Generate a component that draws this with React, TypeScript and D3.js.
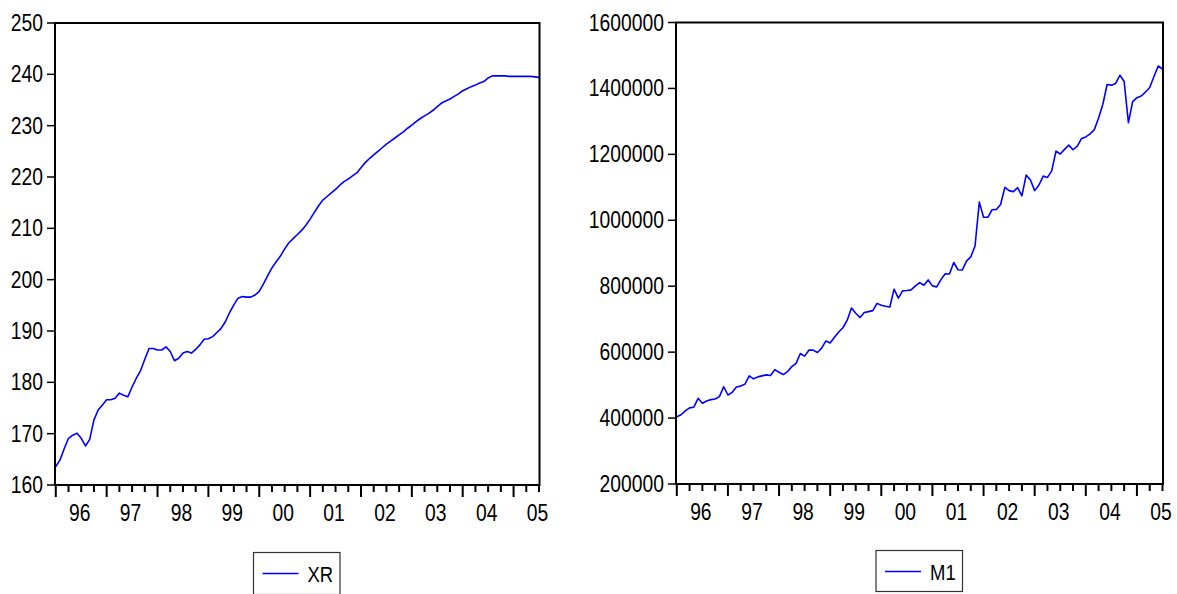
import React from "react";
import * as d3 from "d3";

// Monthly observations, 1996M01 – 2005M07
const START_YEAR = 1996;

const xrValues: number[] = [
  163.6, 164.9, 167.1, 169.1, 169.7, 170.1, 169.1, 167.6, 168.9, 172.7, 174.6, 175.6,
  176.6, 176.6, 176.9, 177.9, 177.5, 177.2, 179.1, 180.8, 182.3, 184.5, 186.6, 186.6,
  186.3, 186.3, 186.9, 186.0, 184.2, 184.7, 185.7, 186.0, 185.7, 186.4, 187.3, 188.4,
  188.5, 188.9, 189.7, 190.5, 191.8, 193.6, 195.1, 196.4, 196.7, 196.6, 196.6, 197.0,
  197.7, 199.2, 200.8, 202.3, 203.5, 204.6, 206.0, 207.2, 208.0, 208.8, 209.6, 210.6,
  211.8, 213.1, 214.4, 215.5, 216.2, 216.9, 217.6, 218.4, 219.1, 219.6, 220.2, 220.8,
  221.8, 222.8, 223.6, 224.3, 225.0, 225.7, 226.4, 227.0, 227.6, 228.2, 228.8, 229.5,
  230.1, 230.8, 231.4, 231.9, 232.4, 233.0, 233.7, 234.4, 234.8, 235.2, 235.7, 236.2,
  236.8, 237.2, 237.6, 237.9, 238.3, 238.6, 239.3, 239.7, 239.7, 239.7, 239.7, 239.6,
  239.6, 239.6, 239.6, 239.6, 239.6, 239.5, 239.4,
];

const m1Values: number[] = [
  404000, 410000, 422000, 431000, 433000, 460000, 445000, 452000, 456000, 458000, 465000, 495000,
  470000, 478000, 494000, 497000, 503000, 528000, 519000, 525000, 528000, 531000, 529000, 547000,
  539000, 532000, 541000, 556000, 566000, 596000, 588000, 606000, 606000, 599000, 612000, 634000,
  628000, 645000, 661000, 674000, 697000, 734000, 718000, 705000, 720000, 723000, 726000, 748000,
  742000, 739000, 737000, 791000, 764000, 786000, 787000, 789000, 801000, 811000, 803000, 819000,
  801000, 798000, 820000, 838000, 837000, 872000, 850000, 849000, 876000, 889000, 922000, 1055000,
  1009000, 1009000, 1032000, 1033000, 1048000, 1100000, 1090000, 1087000, 1099000, 1074000, 1137000, 1122000,
  1090000, 1107000, 1134000, 1130000, 1150000, 1210000, 1201000, 1215000, 1228000, 1214000, 1225000, 1248000,
  1253000, 1262000, 1275000, 1310000, 1352000, 1412000, 1410000, 1415000, 1440000, 1421000, 1296000, 1360000,
  1372000, 1377000, 1389000, 1403000, 1436000, 1468000, 1459000,
];

const xrTicks: number[] = [160, 170, 180, 190, 200, 210, 220, 230, 240, 250];
const m1Ticks: number[] = [200000, 400000, 600000, 800000, 1000000, 1200000, 1400000, 1600000];
const yearLabels: string[] = ["96", "97", "98", "99", "00", "01", "02", "03", "04", "05"];

const FONT = "'Liberation Sans', Arial, sans-serif";
const SQUEEZE = 0.84;

type PanelProps = {
  name: string;
  values: number[];
  yDomain: [number, number];
  yTicks: number[];
  frame: { left: number; right: number; top: number; bottom: number };
  legend: { x: number; y: number; w: number; h: number };
};

function Panel({ name, values, yDomain, yTicks, frame, legend }: PanelProps) {
  const n = values.length;
  const x = d3.scaleLinear().domain([0, n - 1]).range([frame.left + 0.8, frame.right - 0.5]);
  const y = d3.scaleLinear().domain(yDomain).range([frame.bottom, frame.top]);
  const line = d3
    .line<number>()
    .x((_, i) => x(i))
    .y((v) => y(v));

  const quarterTicks = d3.range(0, n, 3);

  return (
    <g>
      {/* series */}
      <path d={line(values) ?? ""} fill="none" stroke="#0000ff" strokeWidth={1.6} strokeLinejoin="round" />

      {/* frame */}
      <rect
        x={frame.left}
        y={frame.top}
        width={frame.right - frame.left}
        height={frame.bottom - frame.top}
        fill="none"
        stroke="#000"
        strokeWidth={2}
      />

      {/* left axis */}
      {yTicks.map((t) => (
        <g key={t}>
          <line x1={frame.left - 8} x2={frame.left} y1={y(t)} y2={y(t)} stroke="#000" strokeWidth={1.5} />
          <text
            transform={`translate(${frame.left - 12},${y(t) + 8}) scale(${SQUEEZE},1)`}
            textAnchor="end"
            fontFamily={FONT}
            fontSize={23}
            fill="#000"
          >
            {t}
          </text>
        </g>
      ))}

      {/* bottom axis: quarters with longer year ticks */}
      {quarterTicks.map((q) => {
        const major = q % 12 === 0;
        return (
          <line
            key={q}
            x1={x(q)}
            x2={x(q)}
            y1={frame.bottom}
            y2={frame.bottom + (major ? 12 : 7)}
            stroke="#000"
            strokeWidth={2}
          />
        );
      })}
      {yearLabels.map((lab, k) => (
        <text
          key={lab}
          transform={`translate(${x(k * 12 + 6) - 1.5},${frame.bottom + 36}) scale(${SQUEEZE},1)`}
          textAnchor="middle"
          fontFamily={FONT}
          fontSize={23}
          fill="#000"
        >
          {lab}
        </text>
      ))}

      {/* legend */}
      <rect
        x={legend.x}
        y={legend.y}
        width={legend.w}
        height={legend.h}
        fill="#fff"
        stroke="#333"
        strokeWidth={1.2}
      />
      <line
        x1={legend.x + 9}
        x2={legend.x + 45}
        y1={legend.y + 21}
        y2={legend.y + 21}
        stroke="#0000ff"
        strokeWidth={1.6}
      />
      <text
        transform={`translate(${legend.x + 54},${legend.y + 29.5}) scale(${SQUEEZE},1)`}
        fontFamily={FONT}
        fontSize={22}
        fill="#000"
      >
        {name}
      </text>
    </g>
  );
}

export default function App() {
  return (
    <svg
      width={1177}
      height={594}
      viewBox="0 0 1177 594"
      style={{ position: "absolute", left: 0, top: 0, display: "block", background: "#fff" }}
    >
      <rect x={0} y={0} width={1177} height={594} fill="#fff" />
      <Panel
        name="XR"
        values={xrValues}
        yDomain={[160, 250]}
        yTicks={xrTicks}
        frame={{ left: 55, right: 539.5, top: 23, bottom: 485 }}
        legend={{ x: 253.5, y: 552.5, w: 86.5, h: 42 }}
      />
      <Panel
        name="M1"
        values={m1Values}
        yDomain={[200000, 1600000]}
        yTicks={m1Ticks}
        frame={{ left: 676, right: 1163, top: 22.5, bottom: 484 }}
        legend={{ x: 876, y: 550.5, w: 86.5, h: 41 }}
      />
    </svg>
  );
}
